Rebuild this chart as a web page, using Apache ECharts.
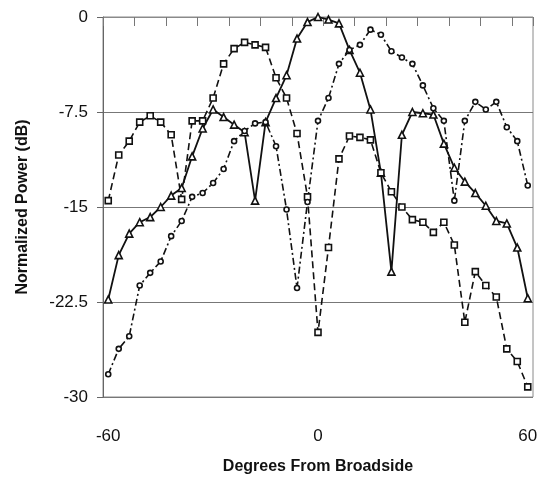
<!DOCTYPE html>
<html>
<head>
<meta charset="utf-8">
<title>Normalized Power vs Degrees From Broadside</title>
<script src="https://cdn.jsdelivr.net/npm/echarts@6/dist/echarts.min.js"></script>
<style>
  html, body { margin: 0; padding: 0; background: #fff; }
  #main { width: 541px; height: 480px; }
</style>
</head>
<body>
<div id="main"></div>
<script>
// angle categories (deg)
var degrees = [-60, -57, -54, -51, -48, -45, -42, -39, -36, -33, -30, -27, -24, -21, -18, -15, -12, -9, -6, -3,
               0, 3, 6, 9, 12, 15, 18, 21, 24, 27, 30, 33, 36, 39, 42, 45, 48, 51, 54, 57, 60];

// solid line, triangles - beam at broadside
var beamCenter = [-22.3, -18.8, -17.1, -16.2, -15.8, -15.0, -14.1, -13.5, -11.0, -8.8, -7.3, -7.9, -8.5, -9.1, -14.5, -8.3, -6.4, -4.6, -1.7, -0.4,
                  0, -0.2, -0.5, -2.6, -4.4, -7.3, -12.3, -20.1, -9.3, -7.5, -7.6, -7.7, -10.0, -11.9, -13.0, -13.9, -14.9, -16.1, -16.3, -18.2, -22.2];

// dashed line, squares - beam steered left
var beamLeft = [-14.5, -10.9, -9.8, -8.3, -7.8, -8.3, -9.3, -14.4, -8.2, -8.2, -6.4, -3.7, -2.5, -2.0, -2.2, -2.4, -4.8, -6.4, -9.2, -14.2,
                -24.9, -18.2, -11.2, -9.4, -9.5, -9.7, -12.3, -13.8, -15.0, -16.0, -16.2, -17.0, -16.2, -18.0, -24.1, -20.1, -21.2, -22.1, -26.2, -27.2, -29.2];

// dash-dot line, circles - beam steered right
var beamRight = [-28.2, -26.2, -25.2, -21.2, -20.2, -19.3, -17.3, -16.1, -14.2, -13.9, -13.1, -12.0, -9.8, -9.0, -8.4, -8.3, -10.2, -15.2, -21.4, -14.6,
                 -8.2, -6.4, -3.7, -2.6, -2.2, -1.0, -1.4, -2.7, -3.2, -3.7, -5.4, -7.2, -8.2, -14.5, -8.2, -6.7, -7.3, -6.7, -8.7, -9.8, -13.3];

var yTicks = [0, -7.5, -15, -22.5, -30];

var myChart = echarts.init(document.getElementById('main'));

var font = 'Liberation Sans, Arial, sans-serif';

var option = {
    animation: false,
    backgroundColor: '#fff',
    grid: {
        left: 103, right: 8, top: 17, bottom: 81,
        show: true, borderColor: '#8a8a8a', borderWidth: 1
    },
    xAxis: [{
        type: 'category',
        data: degrees,
        boundaryGap: true,
        name: 'Degrees From Broadside',
        nameLocation: 'middle',
        nameGap: 62,
        nameTextStyle: { fontFamily: font, fontSize: 16, fontWeight: 'bold', color: '#111' },
        axisLine: { lineStyle: { color: '#777', width: 1 } },
        axisTick: { show: false },
        axisLabel: {
            interval: 19,
            margin: 31,
            fontFamily: font, fontSize: 17, color: '#111'
        },
        splitLine: { show: false }
    }, {
        type: 'category',
        data: degrees,
        position: 'top',
        boundaryGap: true,
        axisLine: { show: true, lineStyle: { color: '#8a8a8a' } },
        axisTick: { show: true, inside: true, interval: 2, length: 9, lineStyle: { color: '#777' } },
        axisLabel: { show: false }
    }],
    yAxis: {
        type: 'value',
        min: -30, max: 0, interval: 7.5,
        name: 'Normalized Power (dB)',
        nameLocation: 'middle',
        nameGap: 72,
        nameTextStyle: { fontFamily: font, fontSize: 16, fontWeight: 'bold', color: '#111' },
        axisLine: { show: true, lineStyle: { color: '#666', width: 1 } },
        axisTick: { show: true, length: 6, lineStyle: { color: '#666' } },
        axisLabel: {
            margin: 15,
            fontFamily: font, fontSize: 17, color: '#111',
            formatter: function (v) {
                return yTicks.indexOf(v) >= 0 ? String(v) : '';
            }
        },
        splitLine: { show: true, lineStyle: { color: '#777', width: 1 } }
    },
    series: [{
        name: 'Broadside',
        type: 'line',
        data: beamCenter,
        symbol: 'triangle',
        symbolSize: 7,
        showAllSymbol: true,
        lineStyle: { color: '#111', width: 1.8, type: 'solid' },
        itemStyle: { color: '#fff', borderColor: '#111', borderWidth: 1.6 },
        z: 3
    }, {
        name: 'Steered left',
        type: 'line',
        data: beamLeft,
        symbol: 'rect',
        symbolSize: 6,
        showAllSymbol: true,
        lineStyle: { color: '#111', width: 1.6, type: [7, 4] },
        itemStyle: { color: '#fff', borderColor: '#111', borderWidth: 1.6 },
        z: 3
    }, {
        name: 'Steered right',
        type: 'line',
        data: beamRight,
        symbol: 'circle',
        symbolSize: 5,
        showAllSymbol: true,
        lineStyle: { color: '#111', width: 1.6, type: [7, 3, 2, 3] },
        itemStyle: { color: '#fff', borderColor: '#111', borderWidth: 1.6 },
        z: 3
    }]
};

myChart.setOption(option);
</script>
</body>
</html>
